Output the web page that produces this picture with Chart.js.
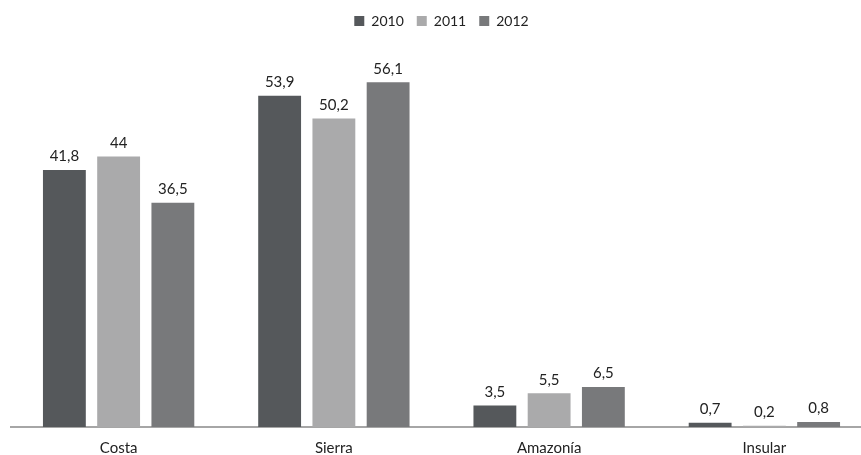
<!DOCTYPE html>
<html>
<head>
<meta charset="utf-8">
<script src="https://cdn.jsdelivr.net/npm/chart.js@4/dist/chart.umd.min.js"></script>
<style>
html,body{margin:0;padding:0;background:#fff;overflow:hidden;width:861px;height:455px;}
#wrap{position:relative;width:872px;height:469px;}
</style>
</head>
<body>
<div id="wrap"><canvas id="c"></canvas></div>
<script>
const categories = ["Costa", "Sierra", "Amazonía", "Insular"];
const seriesNames = ["2010", "2011", "2012"];
const values2010 = [41.8, 53.9, 3.5, 0.7];
const values2011 = [44, 50.2, 5.5, 0.2];
const values2012 = [36.5, 56.1, 6.5, 0.8];
const colors = ["#55585b", "#aaaaab", "#78797b"];

const fontFamily = "Lato, 'Open Sans', sans-serif";

const valueLabels = {
  id: "valueLabels",
  afterDatasetsDraw(chart) {
    const ctx = chart.ctx;
    ctx.save();
    ctx.font = "15px " + fontFamily;
    ctx.fillStyle = "#222";
    ctx.textAlign = "center";
    ctx.textBaseline = "bottom";
    chart.data.datasets.forEach((ds, i) => {
      chart.getDatasetMeta(i).data.forEach((bar, j) => {
        const txt = String(ds.data[j]).replace(".", ",");
        ctx.fillText(txt, bar.x, bar.y - 6);
      });
    });
    ctx.restore();
  }
};

new Chart(document.getElementById("c"), {
  type: "bar",
  data: {
    labels: categories,
    datasets: [
      { label: seriesNames[0], data: values2010, backgroundColor: colors[0] },
      { label: seriesNames[1], data: values2011, backgroundColor: colors[1] },
      { label: seriesNames[2], data: values2012, backgroundColor: colors[2] }
    ]
  },
  options: {
    responsive: true,
    maintainAspectRatio: false,
    animation: false,
    datasets: { bar: { categoryPercentage: 0.756, barPercentage: 0.79 } },
    layout: { padding: { left: 11, right: 0, top: 1, bottom: 0 } },
    plugins: {
      legend: {
        position: "top",
        labels: {
          boxWidth: 10, boxHeight: 10, padding: 13,
          color: "#222",
          font: { family: fontFamily, size: 14 }
        }
      },
      tooltip: { enabled: false }
    },
    scales: {
      x: {
        grid: { display: false, drawTicks: false },
        border: { display: true, color: "#a6a6a6", width: 2 },
        ticks: { color: "#222", font: { family: fontFamily, size: 15 }, padding: 12 }
      },
      y: {
        display: false,
        min: 0,
        max: 63.3
      }
    }
  },
  plugins: [valueLabels]
});
</script>
</body>
</html>
